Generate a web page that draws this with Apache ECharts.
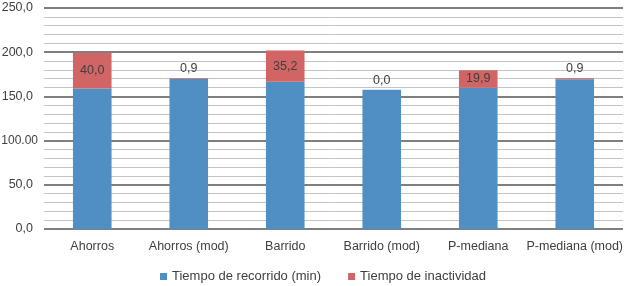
<!DOCTYPE html>
<html>
<head>
<meta charset="utf-8">
<script src="https://cdn.jsdelivr.net/npm/echarts@6/dist/echarts.min.js"></script>
<style>
  html, body { margin: 0; padding: 0; background: #fff; }
  #chart { width: 624px; height: 286px; }
</style>
</head>
<body>
<div id="chart"></div>
<script>
var categories = ['Ahorros', 'Ahorros (mod)', 'Barrido', 'Barrido (mod)', 'P-mediana', 'P-mediana (mod)'];
var recorrido = [159.0, 169.7, 166.6, 157.6, 159.8, 169.5];
var inactividad = [40.0, 0.9, 35.2, 0.0, 19.9, 0.9];
var yTickLabels = ['0,0', '50,0', '100.00', '150,0', '200,0', '250,0'];

(function () {
    var dom = document.getElementById('chart');
    var myChart = echarts.init(dom);

    var textColor = '#404040';
    var font = 'Liberation Sans, Arial, sans-serif';

    // etiquetas: dentro si el segmento es grande, arriba si es pequeño
    var redData = inactividad.map(function (v) {
        var big = v > 10;
        return {
            value: v,
            label: {
                position: big ? 'inside' : 'top',
                distance: 3
            }
        };
    });

    var option = {
        animation: false,
        textStyle: { fontFamily: font },
        grid: {
            left: 44,
            right: 1,
            top: 8,
            bottom: 57,
            containLabel: false,
            outerBoundsMode: 'none'
        },
        legend: {
            top: 265,
            left: 155,
            itemGap: 27,
            icon: 'rect',
            itemWidth: 7,
            itemHeight: 7,
            textStyle: { color: textColor, fontSize: 13, fontFamily: font },
            data: ['Tiempo de recorrido (min)', 'Tiempo de inactividad']
        },
        xAxis: {
            type: 'category',
            data: categories,
            axisTick: { show: false },
            axisLine: { show: false },
            axisLabel: {
                color: textColor,
                fontSize: 12.5,
                fontFamily: font,
                margin: 11,
                interval: 0
            }
        },
        yAxis: {
            type: 'value',
            min: 0,
            max: 250,
            interval: 50,
            axisLine: { show: false },
            axisTick: { show: false },
            axisLabel: {
                color: textColor,
                fontSize: 12,
                fontFamily: font,
                margin: 6,
                formatter: function (v) {
                    var s = yTickLabels[Math.round(v / 50)];
                    // "100.00" sobresale un poco a la derecha como en el original
                    return s === '100.00' ? '{w|' + s + '}' : '{n|' + s + '}';
                },
                rich: {
                    n: { color: textColor, fontSize: 12.5, fontFamily: font, padding: [0, 5, 0, 0] },
                    w: { color: textColor, fontSize: 12, fontFamily: font }
                }
            },
            splitLine: {
                show: true,
                lineStyle: { color: '#7f7f7f', width: 2 }
            },
            minorTick: { show: false, splitNumber: 5 },
            minorSplitLine: {
                show: true,
                lineStyle: { color: '#c4c4c4', width: 1 }
            }
        },
        series: [
            {
                name: 'Tiempo de recorrido (min)',
                type: 'bar',
                stack: 'total',
                barWidth: '40%',
                data: recorrido,
                itemStyle: { color: '#4f8fc4' }
            },
            {
                name: 'Tiempo de inactividad',
                type: 'bar',
                stack: 'total',
                barWidth: '40%',
                data: redData,
                itemStyle: { color: '#d16565' },
                label: {
                    show: true,
                    color: textColor,
                    fontSize: 12.5,
                    fontFamily: font,
                    formatter: function (p) {
                        return p.value.toFixed(1).replace('.', ',');
                    }
                }
            }
        ]
    };

    if (option && typeof option === 'object') {
        myChart.setOption(option);
    }

    window.addEventListener('resize', function () {
        myChart.resize();
    });
})();
</script>
</body>
</html>
